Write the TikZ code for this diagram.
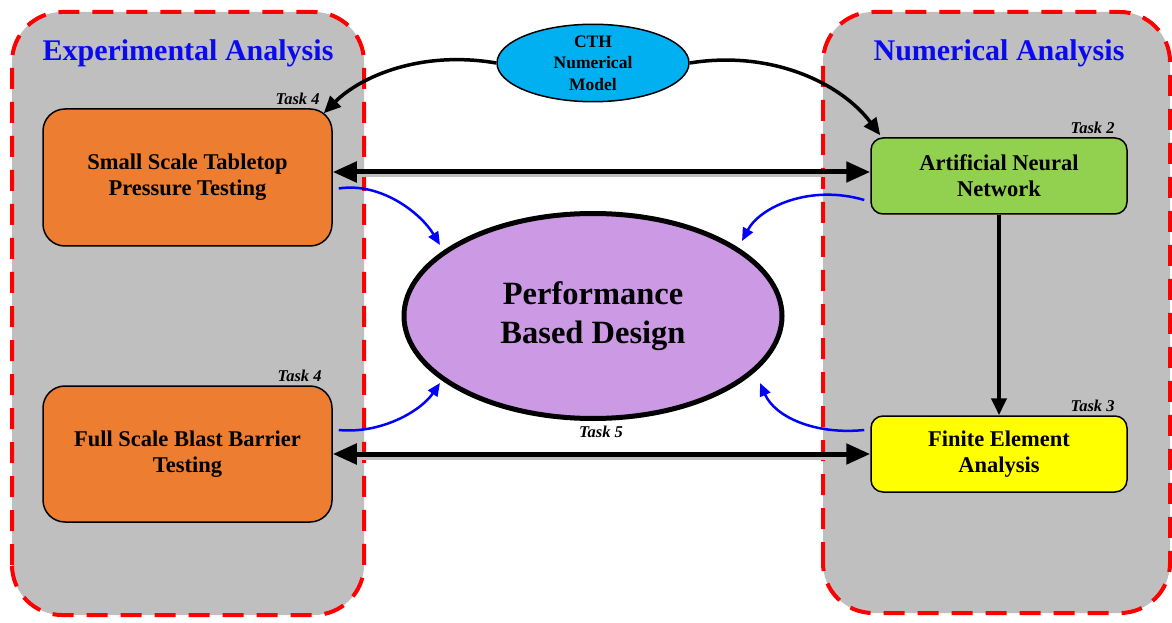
\documentclass[tikz,border=0pt]{standalone}
\usepackage{fontspec}
\setmainfont{Liberation Serif}
\usetikzlibrary{arrows.meta,shapes.geometric}
\definecolor{panelgray}{RGB}{191,191,191}
\definecolor{boxorange}{RGB}{237,125,49}
\definecolor{boxgreen}{RGB}{146,208,80}
\definecolor{boxyellow}{RGB}{255,255,0}
\definecolor{cthblue}{RGB}{0,176,240}
\definecolor{pbdpurple}{RGB}{204,153,228}
\definecolor{titleblue}{RGB}{10,10,240}
\definecolor{arrowblue}{RGB}{0,0,255}
\tikzset{
  panel/.style={fill=panelgray, draw=red, line width=4pt, dash pattern=on 21pt off 13pt, rounded corners=50pt},
  ttl/.style={text=titleblue, font=\fontsize{30}{33}\selectfont\bfseries, inner sep=0pt},
  taskbox/.style={draw=black, line width=1.5pt, align=center, inner sep=0pt, font=\fontsize{22.5}{26}\selectfont\bfseries},
  tasklbl/.style={font=\fontsize{16.5}{18}\selectfont\bfseries\itshape, inner sep=1pt, anchor=south east},
  bigarrow/.style={line width=5pt, {Triangle[length=24pt,width=20pt]}-{Triangle[length=24pt,width=20pt]}},
  arrshadow/.style={line width=5pt, draw=black!25},
  cthline/.style={line width=3.5pt, -{Triangle[length=17pt,width=15pt]}},
  blueline/.style={line width=2.5pt, draw=arrowblue, -{Triangle[length=13pt,width=11pt]}},
}
\begin{document}
\begin{tikzpicture}[x=1pt,y=1pt]
\useasboundingbox (0,0) rectangle (1172,622);
% panels
\draw[panel] (12,7) rectangle (364,610);
\draw[panel] (823,9) rectangle (1170,610);
\node[ttl] (t1) at (188,569) {Experimental Analysis};
\node[ttl] (t2) at (999,569) {Numerical Analysis};
% boxes
\node[taskbox, fill=boxorange, rounded corners=22pt, minimum width=289pt, minimum height=137pt] (small) at (187.5,444.5) {Small Scale Tabletop\\Pressure Testing};
\node[taskbox, fill=boxorange, rounded corners=22pt, minimum width=289pt, minimum height=136pt] (full) at (187.5,168) {Full Scale Blast Barrier\\Testing};
\node[taskbox, fill=boxgreen, rounded corners=12pt, minimum width=256pt, minimum height=76pt] (ann) at (999,446) {Artificial Neural\\Network};
\node[taskbox, fill=boxyellow, rounded corners=12pt, minimum width=256pt, minimum height=76pt] (fea) at (999,168) {Finite Element\\Analysis};
\node[draw=black, line width=1.5pt, fill=cthblue, ellipse, minimum width=192pt, minimum height=73pt, inner sep=0pt, align=center, font=\fontsize{17.5}{21.5}\selectfont\bfseries] (cth) at (593,559) {CTH\\Numerical\\Model};
\node[draw=black, line width=5pt, fill=pbdpurple, ellipse, minimum width=378pt, minimum height=205pt, inner sep=0pt, align=center, font=\fontsize{32.5}{39}\selectfont\bfseries] (pbd) at (593,306) {Performance\\Based Design};
% task labels
\node[tasklbl] (l1) at ([xshift=-12pt,yshift=2pt]small.north east) {Task 4};
\node[tasklbl] (l2) at ([xshift=-10pt,yshift=2pt]full.north east) {Task 4};
\node[tasklbl] (l3) at ([xshift=-12pt,yshift=2pt]ann.north east) {Task 2};
\node[tasklbl] (l4) at ([xshift=-12pt,yshift=2pt]fea.north east) {Task 3};
\node[font=\fontsize{16.5}{18}\selectfont\bfseries\itshape, inner sep=1pt] (l5) at (601,190) {Task 5};
% black horizontal arrows (with soft shadow)
\coordinate (a1) at ([yshift=4pt]ann.west -| small.east);
\coordinate (a2) at ([yshift=4pt]ann.west);
\draw[arrshadow] ([shift={(14pt,-3pt)}]a1) -- ([shift={(-14pt,-3pt)}]a2);
\draw[bigarrow] (a1) -- (a2);
\draw[arrshadow] ([shift={(14pt,-3pt)}]full.east) -- ([shift={(-14pt,-3pt)}]fea.west);
\draw[bigarrow] (full.east) -- (fea.west);
% vertical
\draw[line width=4pt, -{Triangle[length=17pt,width=15pt]}] (ann.south) -- (fea.north);
% CTH curves
\draw[cthline] (cth.west) .. controls (420,572) and (360,545) .. ([xshift=-9pt,yshift=-5pt]small.north east);
\draw[cthline] (cth.east) .. controls (770,572) and (840,540) .. ([xshift=10pt,yshift=2pt]ann.north west);
% blue curves
\draw[blueline] ([xshift=6pt,yshift=-11pt]small.east) .. controls (380,440) and (420,410) .. (440,377);
\draw[blueline] ([xshift=-6pt,yshift=-24pt]ann.west) .. controls (810,438) and (760,415) .. (742,381);
\draw[blueline] ([xshift=6pt,yshift=24pt]full.east) .. controls (380,188) and (420,210) .. (440,239);
\draw[blueline] ([xshift=-6pt,yshift=24pt]fea.west) .. controls (815,187) and (775,205) .. (760,239);
\end{tikzpicture}
\end{document}
